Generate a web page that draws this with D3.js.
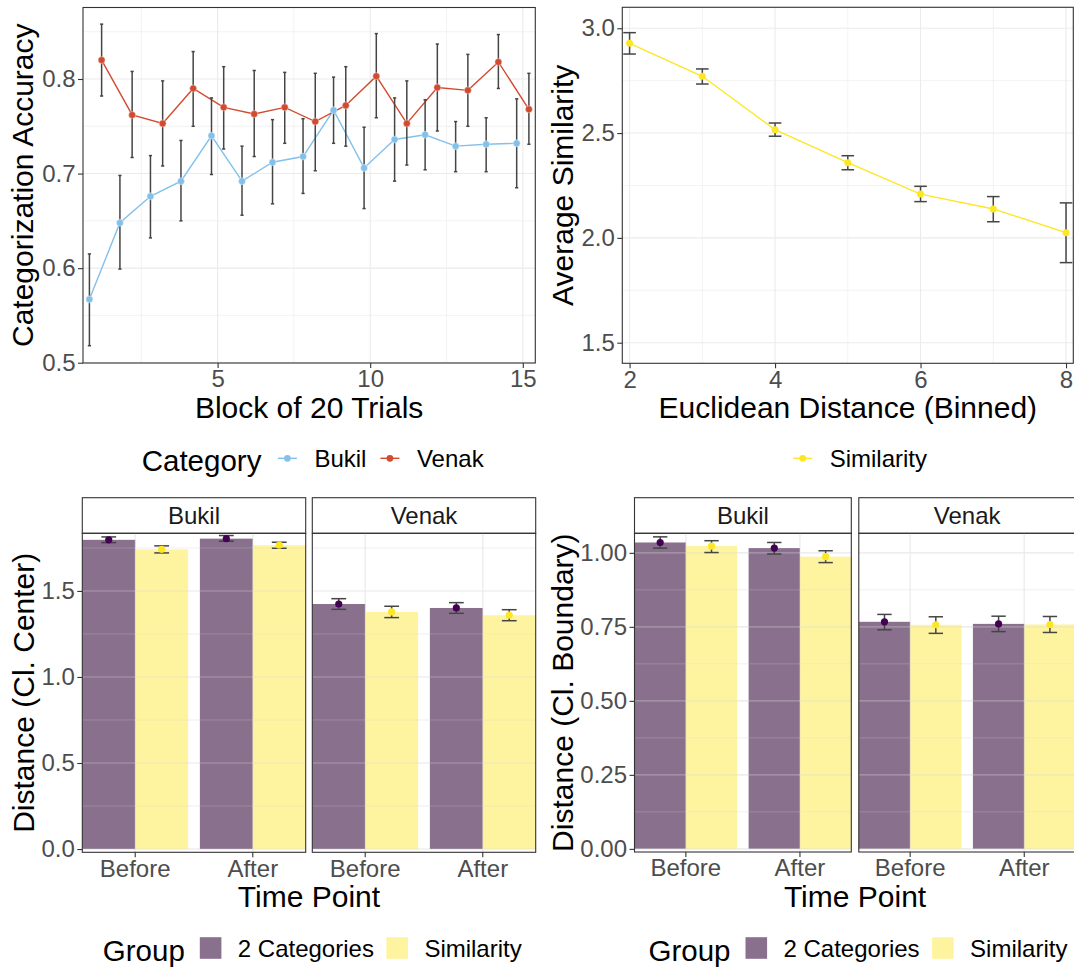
<!DOCTYPE html>
<html>
<head>
<meta charset="utf-8">
<script src="https://cdn.jsdelivr.net/npm/d3@7"></script>
<style>
  body { margin: 0; background: #fff; }
  svg text { font-family: 'Liberation Sans', Arial, Helvetica, sans-serif; }
</style>
</head>
<body>
<div id="chart"></div>
<script>
'use strict';

// ---- Top left: categorization accuracy per block
var blocks = [1, 2, 3, 4, 5, 6, 7, 8, 9, 10, 11, 12, 13, 14, 15];
var bukilAcc = [0.567, 0.648, 0.676, 0.692, 0.740, 0.692, 0.712, 0.718, 0.767, 0.706, 0.736, 0.741, 0.729, 0.731, 0.732];
var bukilLo  = [0.518, 0.599, 0.632, 0.650, 0.699, 0.656, 0.668, 0.679, 0.732, 0.663, 0.692, 0.704, 0.702, 0.702, 0.685];
var bukilHi  = [0.615, 0.698, 0.719, 0.735, 0.780, 0.729, 0.757, 0.758, 0.802, 0.749, 0.780, 0.778, 0.755, 0.759, 0.779];
var venakAcc = [0.820, 0.762, 0.753, 0.790, 0.770, 0.763, 0.770, 0.755, 0.772, 0.803, 0.753, 0.791, 0.788, 0.818, 0.768];
var venakLo  = [0.782, 0.717, 0.708, 0.750, 0.726, 0.718, 0.732, 0.703, 0.729, 0.759, 0.709, 0.745, 0.750, 0.790, 0.731];
var venakHi  = [0.858, 0.808, 0.798, 0.829, 0.813, 0.809, 0.807, 0.806, 0.813, 0.848, 0.798, 0.837, 0.826, 0.847, 0.806];
var categories = ['Bukil', 'Venak'];

// ---- Top right: similarity by binned distance
var distBins = [2, 3, 4, 5, 6, 7, 8];
var simMean = [2.928, 2.771, 2.516, 2.359, 2.209, 2.138, 2.025];
var simLo   = [2.877, 2.734, 2.485, 2.325, 2.173, 2.077, 1.882];
var simHi   = [2.979, 2.806, 2.548, 2.392, 2.246, 2.197, 2.167];

// ---- Bottom: distances before / after, per category facet
var facets = ['Bukil', 'Venak'];
var timePoints = ['Before', 'After'];
var groups = ['2 Categories', 'Similarity'];
var barFacet = ['Bukil', 'Bukil', 'Venak', 'Venak'];
var barTime = ['Before', 'After', 'Before', 'After'];

var centerCat   = [1.797, 1.804, 1.424, 1.401];
var centerCatLo = [1.781, 1.789, 1.393, 1.370];
var centerCatHi = [1.814, 1.822, 1.455, 1.432];
var centerSim   = [1.742, 1.766, 1.378, 1.359];
var centerSimLo = [1.721, 1.748, 1.345, 1.327];
var centerSimHi = [1.762, 1.783, 1.411, 1.391];

var boundCat   = [1.035, 1.016, 0.767, 0.760];
var boundCatLo = [1.016, 0.996, 0.740, 0.734];
var boundCatHi = [1.054, 1.035, 0.792, 0.786];
var boundSim   = [1.023, 0.987, 0.757, 0.758];
var boundSimLo = [1.001, 0.967, 0.728, 0.731];
var boundSimHi = [1.041, 1.007, 0.784, 0.785];

// ---- Styles
var settings = {};
settings.grid_color = '#EBEBEB';
settings.border_color = '#333333';
settings.tick_color = '#4D4D4D';
settings.small_font = '24px';
settings.title_font = '30px';
settings.legend_title_font = '29.5px';
settings.tick_length = 5;
settings.err_color = '#454545';
settings.cat_colors = ['#83C0EA', '#D24A30'];
settings.group_colors = ['#3A1243', '#FDE725'];
settings.point_colors = ['#440154', '#FDE725'];
settings.group_alpha = [0.6, 0.44];

var svg = d3.select('#chart').append('svg')
    .attr('width', 1074)
    .attr('height', 968);

function addGrid(g, w, h, xMajor, xMinor, yMajor, yMinor, opacity) {
  var grid = g.append('g').attr('stroke-opacity', opacity == null ? 1 : opacity)
  xMinor.forEach(function(px){
    grid.append('line').attr('x1', px).attr('x2', px).attr('y1', 0).attr('y2', h)
      .attr('stroke', settings.grid_color).attr('stroke-width', 0.6)
  })
  yMinor.forEach(function(py){
    grid.append('line').attr('x1', 0).attr('x2', w).attr('y1', py).attr('y2', py)
      .attr('stroke', settings.grid_color).attr('stroke-width', 0.6)
  })
  xMajor.forEach(function(px){
    grid.append('line').attr('x1', px).attr('x2', px).attr('y1', 0).attr('y2', h)
      .attr('stroke', settings.grid_color).attr('stroke-width', 1.1)
  })
  yMajor.forEach(function(py){
    grid.append('line').attr('x1', 0).attr('x2', w).attr('y1', py).attr('y2', py)
      .attr('stroke', settings.grid_color).attr('stroke-width', 1.1)
  })
}

function addBorder(g, w, h) {
  g.append('rect')
    .attr('width', w).attr('height', h)
    .attr('fill', 'none')
    .attr('stroke', settings.border_color)
    .attr('stroke-width', 1.1)
}

function styleAxis(a) {
  a.attr('font-family', null).attr('font-size', null)
  a.select('.domain').remove()
  a.selectAll('line').attr('stroke', settings.border_color).attr('stroke-width', 1.1)
  a.selectAll('text')
    .attr('fill', settings.tick_color)
    .style('font-size', settings.small_font)
}

function leftAxis(g, y, ticks, fmt) {
  var a = g.append('g')
    .call(d3.axisLeft(y).tickValues(ticks).tickFormat(d3.format(fmt))
      .tickSize(settings.tick_length).tickPadding(2.5).tickSizeOuter(0))
  styleAxis(a)
}

function bottomAxis(g, x, h, ticks, fmt) {
  var ax = d3.axisBottom(x).tickSize(settings.tick_length).tickPadding(2.4).tickSizeOuter(0)
  if (ticks) ax.tickValues(ticks)
  if (fmt) ax.tickFormat(d3.format(fmt))
  var a = g.append('g').attr('transform', 'translate(0,' + h + ')').call(ax)
  styleAxis(a)
}

function yTitle(x, cy, label) {
  svg.append('text')
    .attr('transform', 'translate(' + x + ',' + cy + ') rotate(-90)')
    .attr('text-anchor', 'middle')
    .style('font-size', settings.title_font)
    .attr('fill', '#000')
    .text(label)
}

function xTitle(cx, y, label) {
  svg.append('text')
    .attr('x', cx).attr('y', y)
    .attr('text-anchor', 'middle')
    .style('font-size', settings.title_font)
    .attr('fill', '#000')
    .text(label)
}

function errorBars(g, data, x, y, capHalf) {
  var eb = g.append('g')
    .attr('stroke', settings.err_color)
    .attr('stroke-width', 1.5)
  data.forEach(function(d){
    eb.append('line').attr('x1', x(d)).attr('x2', x(d)).attr('y1', y(d.lo)).attr('y2', y(d.hi))
    eb.append('line').attr('x1', x(d) - capHalf).attr('x2', x(d) + capHalf).attr('y1', y(d.lo)).attr('y2', y(d.lo))
    eb.append('line').attr('x1', x(d) - capHalf).attr('x2', x(d) + capHalf).attr('y1', y(d.hi)).attr('y2', y(d.hi))
  })
}

// legend: title, then keys with labels in a row
function legend(x0, cy, title, items, keyFn) {
  var g = svg.append('g')
  var cursor = x0
  if (title) {
    var t = g.append('text').attr('x', cursor).attr('y', cy + 13.1)
      .style('font-size', settings.legend_title_font).attr('fill', '#000').text(title)
    cursor += t.node().getComputedTextLength() + 15
  }
  items.forEach(function(label, i){
    keyFn(g, cursor, cy, i)
    cursor += 22 + 16
    var l = g.append('text').attr('x', cursor).attr('y', cy + 8.6)
      .style('font-size', settings.small_font).attr('fill', '#000').text(label)
    cursor += l.node().getComputedTextLength() + 12.5
  })
}

function lineKey(colors) {
  return function(g, x, cy, i) {
    g.append('line').attr('x1', x + 1.5).attr('x2', x + 20.5).attr('y1', cy).attr('y2', cy)
      .attr('stroke', colors[i]).attr('stroke-width', 1.4)
    g.append('circle').attr('cx', x + 11).attr('cy', cy).attr('r', 3.4).attr('fill', colors[i])
  }
}

function boxKey(g, x, cy, i) {
  g.append('rect').attr('x', x).attr('y', cy - 10.8).attr('width', 21.6).attr('height', 21.6)
    .attr('fill', settings.group_colors[i]).attr('fill-opacity', settings.group_alpha[i])
}

// ================= Top left =================
(function(){
  var p = {left: 83, top: 7.5, width: 452.3, height: 355.5}
  var x = d3.scaleLinear().domain([0.59, 15.41]).range([0, p.width])
  var y = d3.scaleLinear().domain([0.4997, 0.8756]).range([p.height, 0])
  var g = svg.append('g').attr('transform', 'translate(' + p.left + ',' + p.top + ')')

  addGrid(g, p.width, p.height,
    [5, 10, 15].map(x), [2.5, 7.5, 12.5].map(x),
    [0.5, 0.6, 0.7, 0.8].map(y), [0.55, 0.65, 0.75, 0.85].map(y))

  var series = [
    {name: categories[0], dodge: -0.2, mean: bukilAcc, lo: bukilLo, hi: bukilHi, color: settings.cat_colors[0]},
    {name: categories[1], dodge: 0.2, mean: venakAcc, lo: venakLo, hi: venakHi, color: settings.cat_colors[1]}
  ]
  series.forEach(function(s){
    s.points = blocks.map(function(b, i){
      return {x: b + s.dodge, v: s.mean[i], lo: s.lo[i], hi: s.hi[i]}
    })
  })

  var line = d3.line().x(function(d){ return x(d.x) }).y(function(d){ return y(d.v) })
  series.forEach(function(s){
    g.append('path').datum(s.points)
      .attr('d', line).attr('fill', 'none')
      .attr('stroke', s.color).attr('stroke-width', 1.4)
  })
  series.forEach(function(s){
    errorBars(g, s.points, function(d){ return x(d.x) }, y, 1.6)
  })
  series.forEach(function(s){
    g.selectAll(null).data(s.points).enter().append('circle')
      .attr('cx', function(d){ return x(d.x) })
      .attr('cy', function(d){ return y(d.v) })
      .attr('r', 3.5)
      .attr('fill', s.color)
      .attr('stroke', '#fff').attr('stroke-width', 0.4)
  })

  addBorder(g, p.width, p.height)
  leftAxis(g, y, [0.5, 0.6, 0.7, 0.8], '.1f')
  bottomAxis(g, x, p.height, [5, 10, 15], 'd')

  yTitle(33, p.top + p.height / 2, 'Categorization Accuracy')
  xTitle(p.left + p.width / 2, 418.3, 'Block of 20 Trials')
  legend(141.7, 458.3, 'Category', categories, lineKey(settings.cat_colors))
})();

// ================= Top right =================
(function(){
  var p = {left: 622.3, top: 7.3, width: 451, height: 356}
  var x = d3.scaleLinear().domain([1.9, 8.1]).range([0, p.width])
  var y = d3.scaleLinear().domain([1.4017, 3.1]).range([p.height, 0])
  var g = svg.append('g').attr('transform', 'translate(' + p.left + ',' + p.top + ')')

  addGrid(g, p.width, p.height,
    [2, 4, 6, 8].map(x), [3, 5, 7].map(x),
    [1.5, 2.0, 2.5, 3.0].map(y), [1.75, 2.25, 2.75].map(y))

  var pts = distBins.map(function(b, i){
    return {x: b, v: simMean[i], lo: simLo[i], hi: simHi[i]}
  })
  var line = d3.line().x(function(d){ return x(d.x) }).y(function(d){ return y(d.v) })
  g.append('path').datum(pts)
    .attr('d', line).attr('fill', 'none')
    .attr('stroke', settings.point_colors[1]).attr('stroke-width', 1.4)
  errorBars(g, pts, function(d){ return x(d.x) }, y, 6.3)
  g.selectAll(null).data(pts).enter().append('circle')
    .attr('cx', function(d){ return x(d.x) })
    .attr('cy', function(d){ return y(d.v) })
    .attr('r', 3.5)
    .attr('fill', settings.point_colors[1])

  addBorder(g, p.width, p.height)
  leftAxis(g, y, [1.5, 2.0, 2.5, 3.0], '.1f')
  bottomAxis(g, x, p.height, [2, 4, 6, 8], 'd')

  yTitle(572.5, p.top + p.height / 2, 'Average Similarity')
  xTitle(p.left + p.width / 2, 418.3, 'Euclidean Distance (Binned)')
  legend(791.7, 458.3, null, ['Similarity'], lineKey([settings.point_colors[1]]))
})();

// ================= Bottom bar plots =================
function barPlot(p, means, los, his, yDomain, yMajor, yMinor, fmt, yLabel, titleX, legendX) {
  var y = d3.scaleLinear().domain(yDomain).range([p.height, 0])

  facets.forEach(function(facet, fi){
    var left = p.lefts[fi]
    var x = d3.scaleBand().domain(timePoints).range([0, p.width]).paddingInner(0.1).paddingOuter(0)
    var xg = d3.scaleBand().domain(groups).range([0, x.bandwidth()])

    // strip
    var s = svg.append('g').attr('transform', 'translate(' + left + ',' + p.stripTop + ')')
    var sh = p.top - p.stripTop
    s.append('rect').attr('width', p.width).attr('height', sh)
      .attr('fill', '#fff').attr('stroke', settings.border_color).attr('stroke-width', 1.1)
    s.append('text').attr('x', p.width / 2).attr('y', sh / 2 + 8.6)
      .attr('text-anchor', 'middle').style('font-size', settings.small_font)
      .attr('fill', '#1A1A1A').text(facet)

    var g = svg.append('g').attr('transform', 'translate(' + left + ',' + p.top + ')')
    var xGrid = timePoints.map(function(t){ return x(t) + x.bandwidth() / 2 })
    addGrid(g, p.width, p.height, xGrid, [], yMajor.map(y), yMinor.map(y))

    var rows = []
    barTime.forEach(function(t, i){
      if (barFacet[i] !== facet) return
      groups.forEach(function(gr, gi){
        rows.push({time: t, group: gr, gi: gi, v: means[gi][i], lo: los[gi][i], hi: his[gi][i]})
      })
    })

    g.selectAll(null).data(rows).enter().append('rect')
      .attr('x', function(d){ return x(d.time) + xg(d.group) })
      .attr('width', xg.bandwidth())
      .attr('y', function(d){ return y(d.v) })
      .attr('height', function(d){ return y(0) - y(d.v) })
      .attr('fill', function(d){ return settings.group_colors[d.gi] })
      .attr('fill-opacity', function(d){ return settings.group_alpha[d.gi] })

    // faint grid showing over the bars
    addGrid(g, p.width, p.height, xGrid, [], yMajor.map(y), yMinor.map(y), 0.4)

    var cx = function(d){ return x(d.time) + xg(d.group) + xg.bandwidth() / 2 }
    errorBars(g, rows, cx, y, xg.bandwidth() * 0.14)
    g.selectAll(null).data(rows).enter().append('circle')
      .attr('cx', cx)
      .attr('cy', function(d){ return y(d.v) })
      .attr('r', 3.6)
      .attr('fill', function(d){ return settings.point_colors[d.gi] })

    addBorder(g, p.width, p.height)
    if (fi === 0) leftAxis(g, y, yMajor, fmt)
    bottomAxis(g, x, p.height)
  })

  yTitle(titleX, p.top + p.height / 2, yLabel)
  var fullLeft = p.lefts[0], fullRight = p.lefts[1] + p.width
  xTitle((fullLeft + fullRight) / 2, 906.7, 'Time Point')
  legend(legendX, 948, 'Group', groups, boxKey)
}

barPlot({lefts: [82.3, 312.3], width: 223.4, stripTop: 497.7, top: 533.3, height: 319},
  [centerCat, centerSim], [centerCatLo, centerSimLo], [centerCatHi, centerSimHi],
  [-0.019, 1.835], [0, 0.5, 1.0, 1.5], [0.25, 0.75, 1.25, 1.75], '.1f',
  'Distance (Cl. Center)', 33.5, 102.8)

barPlot({lefts: [634.5, 858.8], width: 216.8, stripTop: 497.7, top: 533.3, height: 318.7},
  [boundCat, boundSim], [boundCatLo, boundSimLo], [boundCatHi, boundSimHi],
  [-0.0106, 1.066], [0, 0.25, 0.5, 0.75, 1.0], [0.125, 0.375, 0.625, 0.875], '.2f',
  'Distance (Cl. Boundary)', 573, 648.5)
</script>
</body>
</html>
